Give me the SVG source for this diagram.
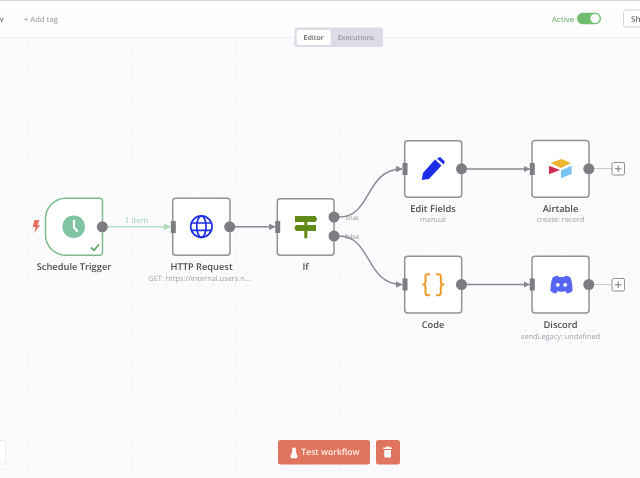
<svg xmlns="http://www.w3.org/2000/svg" width="640" height="478" viewBox="0 0 640 478">
<style>
text{font-family:"Open Sans","Liberation Sans",sans-serif;text-rendering:geometricPrecision}
.box{fill:#fff;stroke:#929296;stroke-width:1.5}
.name{font-size:9.3px;font-weight:600;fill:#4f4f52;text-anchor:middle}
.sub{font-size:7.4px;fill:#a2a2a6;text-anchor:middle}
.out{fill:#7c7c81}
.in{fill:#7c7c81}
.c{fill:none;stroke:#88888e;stroke-width:1.4}
.small{font-size:6.6px;fill:#85858a}
</style>
<defs>
<pattern id="grid" x="4" y="41.5" width="11.55" height="11.55" patternUnits="userSpaceOnUse"><circle cx="0.7" cy="0.7" r="0.65" fill="#dedee5"/></pattern>
<marker id="ah" viewBox="0 0 10 10" refX="9" refY="5" markerWidth="6.6" markerHeight="6.6" markerUnits="userSpaceOnUse" orient="auto"><path d="M0 0L10 5L0 10Z" fill="#88888e"/></marker>
<marker id="ahg" viewBox="0 0 10 10" refX="9" refY="5" markerWidth="6.6" markerHeight="6.6" markerUnits="userSpaceOnUse" orient="auto"><path d="M0 0L10 5L0 10Z" fill="#a9dcb3"/></marker>
<filter id="soft" x="0" y="0" width="100%" height="100%"><feGaussianBlur stdDeviation="0.35"/></filter>
</defs>
<g filter="url(#soft)">
<rect width="640" height="478" fill="#fbfbfe"/>
<rect y="38" width="640" height="440" fill="url(#grid)"/>
<g id="header">
<rect width="640" height="37.5" fill="#fefeff"/>
<rect width="640" height="1" fill="#d8d8dc"/>
<rect y="37" width="640" height="0.8" fill="#eeeef3"/>
<text x="-3" y="22" font-size="8" font-weight="600" fill="#777">w</text>
<text x="24" y="22" font-size="7.5" font-weight="600" fill="#a8a8ae">+ Add tag</text>
<text x="552" y="22" font-size="7.5" font-weight="600" fill="#7dba84">Active</text>
<rect x="577" y="12.700" width="24" height="11.500" rx="5.750" fill="#70bd70"/>
<circle cx="595" cy="18.500" r="4.600" fill="#fff"/>
<rect x="623.500" y="10" width="22" height="17" rx="2.500" fill="#fff" stroke="#d4d4d8"/>
<text x="631" y="22" font-size="8" font-weight="600" fill="#666">Sh</text>
</g>
<g id="tabs">
<rect x="294.500" y="27.500" width="88.500" height="19.500" rx="2.500" fill="#dcdce8"/>
<rect x="296.700" y="30" width="34" height="15" rx="2" fill="#fff"/>
<text x="313.700" y="40.200" font-size="7" font-weight="600" fill="#666" text-anchor="middle">Editor</text>
<text x="356" y="40.200" font-size="7" font-weight="600" fill="#97979e" text-anchor="middle">Executions</text>
</g>
<g id="connectors">
<path d="M107 226.800H170" fill="none" stroke="#b4e2bd" stroke-width="1.500" marker-end="url(#ahg)"/>
<path d="M235 226.800H275" class="c" marker-end="url(#ah)"/>
<path d="M339 217C372 217 365 169 402 169" class="c" marker-end="url(#ah)"/>
<path d="M339 236C372 236 365 284.500 402 284.500" class="c" marker-end="url(#ah)"/>
<path d="M467 169H529.500" class="c" marker-end="url(#ah)"/>
<path d="M467 284.500H529.500" class="c" marker-end="url(#ah)"/>
<path d="M594 168.500H611.500M594 284.500H611.500" fill="none" stroke="#c9c9ce" stroke-width="1.200"/>
<text x="136.500" y="223" font-size="8" fill="#a0d5a9" text-anchor="middle">1 item</text>
<text x="346" y="219.500" class="small">true</text>
<text x="345" y="238.500" class="small">false</text>
</g>
<g id="schedule-trigger">
<path d="M66 198.300H99.500a3 3 0 0 1 3 3V252.300a3 3 0 0 1-3 3H66a20.500 20.500 0 0 1-20.500-20.500V218.800A20.500 20.500 0 0 1 66 198.300Z" fill="#fff" stroke="#7cbb8b" stroke-width="1.500"/>
<circle cx="73.700" cy="226.700" r="11.300" fill="#7fc4a3"/>
<path d="M74 220V227.500L77.500 231.500" fill="none" stroke="#fff" stroke-width="2.200"/>
<path d="M34.500 220H39.500L37.500 225H40L34.500 232.800L35.500 227H32.700Z" fill="#e5715a"/>
<path d="M91 247.500L94 250.300L99 244.500" fill="none" stroke="#5ca76c" stroke-width="1.800"/>
<circle cx="102.300" cy="226.800" r="5.500" class="out"/>
<text x="74" y="270" class="name">Schedule Trigger</text>
</g>
<g id="http-request">
<rect x="172.700" y="198.300" width="57.300" height="57" rx="3" class="box"/>
<rect x="170.800" y="221" width="5" height="12" class="in" rx="0.500"/>
<circle cx="229.700" cy="226.800" r="5.500" class="out"/>
<g fill="none" stroke="#1d2ee8" stroke-width="1.700"><circle cx="201.400" cy="226.600" r="10.700"/><ellipse cx="201.400" cy="226.600" rx="4.700" ry="10.700"/><path d="M191.500 223H211.500M191.500 230.300H211.500"/></g>
<text x="201.500" y="270" class="name">HTTP Request</text>
<text x="199.500" y="281" class="sub">GET: https://internal.users.n...</text>
</g>
<g id="if">
<rect x="277.300" y="198.700" width="56.700" height="56.500" rx="3" class="box"/>
<rect x="275.200" y="221" width="5" height="12" class="in" rx="0.500"/>
<circle cx="334" cy="217" r="5.500" class="out"/>
<circle cx="334" cy="236" r="5.500" class="out"/>
<path d="M295 216H315.300L317.300 219L315.300 222H295ZM296 225H316V231H296L294.300 228ZM304.300 222H307.300V225H304.300ZM304.300 231H307.300V238.300H304.300Z" fill="#628a12"/>
<text x="305.500" y="270" class="name">If</text>
</g>
<g id="edit-fields">
<rect x="404.700" y="140.700" width="57" height="56.500" rx="3" class="box"/>
<rect x="402.500" y="163" width="5" height="12" class="in" rx="0.500"/>
<circle cx="461.500" cy="168.800" r="5.500" class="out"/>
<path d="M421.700 180L423 173L435 159.500L441.500 165.500L429 179ZM437 158.500L440 157L445 161.500L443.500 164.500Z" fill="#1f2de9"/>
<text x="433" y="212" class="name">Edit Fields</text>
<text x="433" y="222" class="sub">manual</text>
</g>
<g id="code">
<rect x="404.700" y="256.300" width="57" height="56.700" rx="3" class="box"/>
<rect x="402.500" y="278.500" width="5" height="12" class="in" rx="0.500"/>
<circle cx="461.500" cy="284.500" r="5.500" class="out"/>
<path d="M430 274.300H427.500Q425.500 274.300 425.500 276.500V282Q425.500 284.500 422.500 284.500Q425.500 284.500 425.500 287V293Q425.500 295.200 427.500 295.200H430M436 274.300H438.500Q440.800 274.300 440.800 276.500V282Q440.800 284.500 444 284.500Q440.800 284.500 440.800 287V293Q440.800 295.200 438.500 295.200H436" fill="none" stroke="#ee9b2a" stroke-width="2"/>
<text x="433" y="328" class="name">Code</text>
</g>
<g id="airtable">
<rect x="532" y="140.500" width="57" height="56.700" rx="3" class="box"/>
<rect x="529.800" y="163" width="5" height="12" class="in" rx="0.500"/>
<circle cx="588.800" cy="168.800" r="5.500" class="out"/>
<path d="M561.500 159L571 163L561 168L550.500 163Z" fill="#edb52f"/>
<path d="M561 170.500L571.700 165.500V174L561 178.300Z" fill="#7cc4f2"/>
<path d="M549 165.700L560 170L549 174.300Z" fill="#cf2e50"/>
<text x="560.500" y="212" class="name">Airtable</text>
<text x="560.500" y="222" class="sub">create: record</text>
</g>
<g id="discord">
<rect x="532" y="256.300" width="57" height="56.700" rx="3" class="box"/>
<rect x="529.800" y="278.500" width="5" height="12" class="in" rx="0.500"/>
<circle cx="588.800" cy="284.500" r="5.500" class="out"/>
<path d="M553 277Q556 275.700 558 275.700L558.700 277H564.300L565 275.700Q567 275.700 570 277Q572.500 281.500 572.500 291Q570 293 567 293.500L565.500 291.500L566.800 290.800Q561.500 292.500 556.200 290.800L557.500 291.500L556 293.500Q553 293 550.500 291Q550.500 281.500 553 277Z" fill="#5865f2"/>
<circle cx="557.800" cy="284.800" r="1.900" fill="#fff"/><circle cx="565.200" cy="284.800" r="1.900" fill="#fff"/>
<text x="560.500" y="328" class="name">Discord</text>
<text x="560.500" y="339" class="sub">sendLegacy: undefined</text>
</g>
<g id="add-top">
<rect x="612" y="162.500" width="12.500" height="12.500" rx="1.500" fill="#fff" stroke="#929296"/>
<path d="M615 168.800H621.500M618.200 165.500V172" stroke="#77777c" stroke-width="1"/>
</g>
<g id="add-bottom">
<rect x="612" y="278.500" width="12.500" height="12.500" rx="1.500" fill="#fff" stroke="#929296"/>
<path d="M615 284.800H621.500M618.200 281.500V288" stroke="#77777c" stroke-width="1"/>
</g>
<g id="toolbar">
<rect x="-6" y="440.500" width="12" height="23.500" rx="2.500" fill="#fff" stroke="#ececf0"/>
<rect x="278" y="440" width="92" height="24.500" rx="2.500" fill="#e0755e"/>
<path d="M292.500 448H295.500V451.500L297.300 456.500Q297.500 458 296 458H292Q290.500 458 290.700 456.500L292.500 451.500Z" fill="#fff" stroke="#fff" stroke-width="0.600"/>
<text x="330.500" y="455" font-size="8.600" font-weight="600" fill="#fdeee9" text-anchor="middle">Test workflow</text>
<rect x="376" y="440" width="24" height="24.500" rx="2.500" fill="#e0755e"/>
<path d="M383.300 447.500H392V449H383.300ZM386 446.500H389.500V447.500H386ZM384.300 450H391V456.500Q391 457.500 390 457.500H385.300Q384.300 457.500 384.300 456.500Z" fill="#fff"/>
</g>
</g>
</svg>
